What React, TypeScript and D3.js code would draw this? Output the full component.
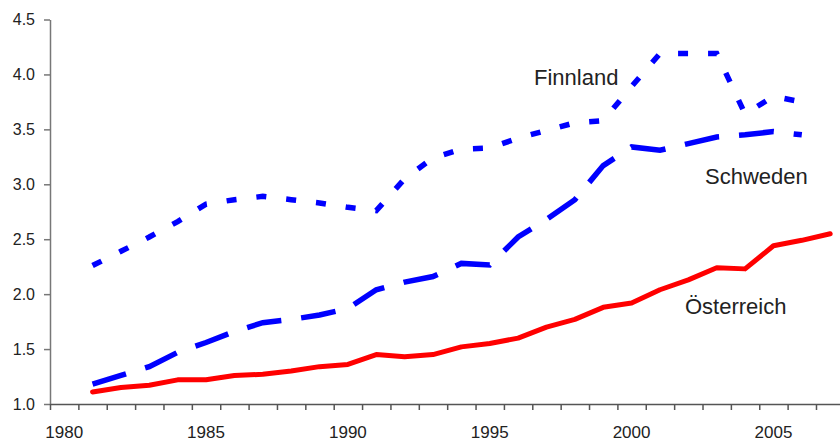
import React, { useEffect, useRef } from "react";
import * as d3 from "d3";

const years = d3.range(1981, 2008);
const oesterreich = [1.11, 1.15, 1.17, 1.22, 1.22, 1.26, 1.27, 1.3, 1.34, 1.36, 1.45, 1.43, 1.45, 1.52, 1.55, 1.6, 1.7, 1.77, 1.88, 1.92, 2.04, 2.13, 2.24, 2.23, 2.44, 2.49, 2.55];
const schweden = [1.18, 1.26, 1.34, 1.47, 1.56, 1.66, 1.74, 1.77, 1.81, 1.87, 2.04, 2.11, 2.16, 2.28, 2.265, 2.52, 2.68, 2.86, 3.17, 3.34, 3.31, 3.37, 3.43, 3.45, 3.48, 3.45];
const finnland = [2.26, 2.39, 2.52, 2.66, 2.82, 2.86, 2.89, 2.86, 2.83, 2.79, 2.76, 3.05, 3.24, 3.32, 3.33, 3.42, 3.49, 3.56, 3.58, 3.89, 4.19, 4.19, 4.19, 3.64, 3.8, 3.75];
const yTicks = [1, 1.5, 2, 2.5, 3, 3.5, 4, 4.5];
const xLabels = [1980, 1985, 1990, 1995, 2000, 2005];

export default function App() {
  const svgRef = useRef<SVGSVGElement>(null);

  useEffect(() => {
    if (!svgRef.current) return;
    const width = 840;
    const height = 441;
    const font = "'Liberation Sans', Arial, sans-serif";

    const svg = d3.select(svgRef.current);
    svg.selectAll("*").remove();
    svg.attr("width", width).attr("height", height).attr("viewBox", [0, 0, width, height]);

    // category axis: ticks between years, points in the middle
    const step = 28.37;
    const x = d3.scaleLinear().domain([1980, 2009]).range([50, 50 + 29 * step]);
    const y = d3.scaleLinear().domain([1, 4.5]).range([404, 19.5]);

    // y axis
    const yAxis = svg.append("g")
      .attr("transform", "translate(50,0)")
      .call(d3.axisLeft(y).tickValues(yTicks).tickFormat(d3.format(".1f")).tickSize(6).tickPadding(9).tickSizeOuter(0));
    yAxis.select(".domain").attr("stroke", "#777").attr("stroke-width", 1.5);
    yAxis.selectAll(".tick line").attr("stroke", "#777").attr("stroke-width", 1.5);
    yAxis.selectAll(".tick text")
      .attr("fill", "#222")
      .style("font-family", font)
      .style("font-size", "16px");

    // x axis
    const xAxis = svg.append("g")
      .attr("transform", "translate(0,404)")
      .call(d3.axisBottom(x).tickValues(d3.range(1980, 2010)).tickFormat(() => "").tickSize(6).tickSizeOuter(0));
    xAxis.select(".domain").attr("stroke", "#555").attr("stroke-width", 1.5);
    xAxis.selectAll(".tick line").attr("stroke", "#555").attr("stroke-width", 1.5);

    svg.append("g")
      .selectAll("text")
      .data(xLabels)
      .join("text")
      .attr("x", (d) => x(d + 0.5))
      .attr("y", 438)
      .attr("text-anchor", "middle")
      .attr("fill", "#222")
      .style("font-family", font)
      .style("font-size", "17px")
      .text((d) => d);

    const line = d3.line<number>()
      .x((_, i) => x(years[i] + 0.5))
      .y((d) => y(d));

    svg.append("path")
      .attr("d", line(oesterreich))
      .attr("fill", "none")
      .attr("stroke", "#ff0000")
      .attr("stroke-width", 5)
      .attr("stroke-linejoin", "round")
      .attr("stroke-linecap", "round");

    svg.append("path")
      .attr("d", line(schweden))
      .attr("fill", "none")
      .attr("stroke", "#0000ff")
      .attr("stroke-width", 5.5)
      .attr("stroke-dasharray", "35,20");

    svg.append("path")
      .attr("d", line(finnland))
      .attr("fill", "none")
      .attr("stroke", "#0000ff")
      .attr("stroke-width", 5.5)
      .attr("stroke-dasharray", "10,20");

    const labels = [
      { text: "Finnland", x: 534, y: 85 },
      { text: "Schweden", x: 705, y: 184 },
      { text: "Österreich", x: 685, y: 314 },
    ];
    svg.append("g")
      .selectAll("text")
      .data(labels)
      .join("text")
      .attr("x", (d) => d.x)
      .attr("y", (d) => d.y)
      .attr("fill", "#222")
      .style("font-family", font)
      .style("font-size", "22px")
      .text((d) => d.text);
  }, []);

  return (
    <div style={{ position: "absolute", left: 0, top: 0 }}>
      <svg ref={svgRef} style={{ display: "block" }}></svg>
    </div>
  );
}
